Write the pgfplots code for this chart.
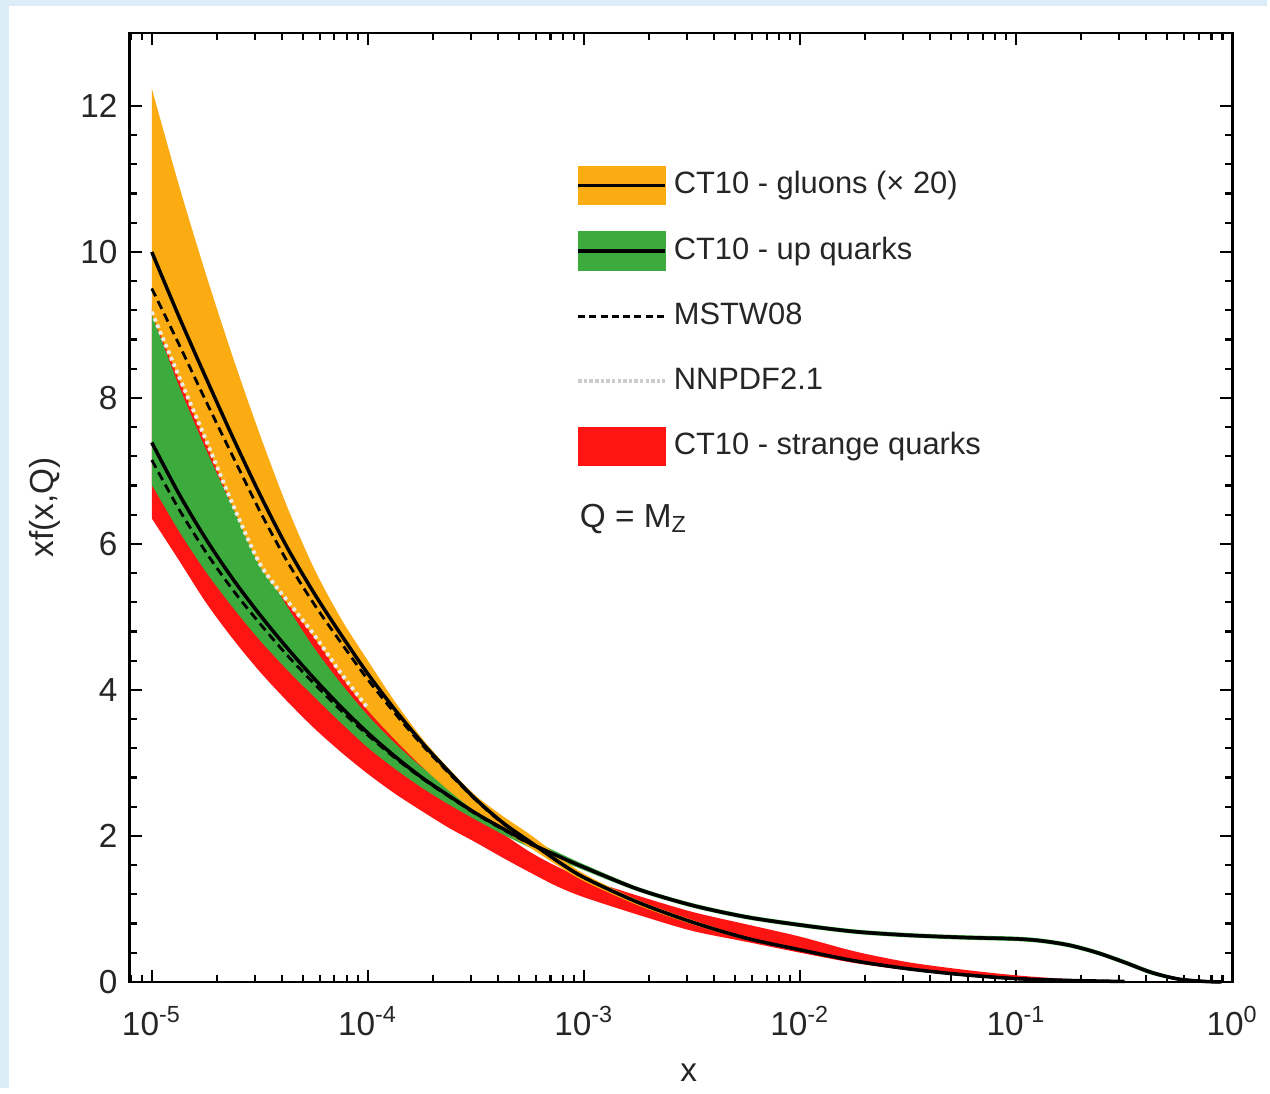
\documentclass[border=0pt]{standalone}
\usepackage{fontspec}
\setmainfont{Liberation Sans}
\usepackage{pgfplots}
\pgfplotsset{compat=1.18}
\usepackage{pgfplotstable}
\usepgfplotslibrary{fillbetween}
\definecolor{bgblue}{RGB}{220,237,248}
\definecolor{glu}{RGB}{251,172,19}
\definecolor{upgreen}{RGB}{60,170,60}
\definecolor{strq}{RGB}{255,20,20}

% x column = log10(x)
\pgfplotstableread{
lx U C L M
-5.000 12.24 10.00 9.15 9.50
-4.875 10.92 9.12 8.27 8.74
-4.750 9.70 8.28 7.40 7.96
-4.625 8.56 7.46 6.51 7.20
-4.500 7.50 6.68 5.70 6.45
-4.375 6.52 5.96 5.20 5.77
-4.250 5.67 5.33 4.73 5.18
-4.125 4.98 4.76 4.20 4.65
-4.000 4.40 4.22 3.72 4.14
-3.875 3.84 3.73 3.32 3.68
-3.750 3.34 3.28 2.95 3.25
-3.625 2.92 2.88 2.62 2.86
-3.500 2.55 2.50 2.33 2.49
-3.375 2.27 2.18 2.08 2.17
-3.250 2.02 1.92 1.84 1.92
-3.125 1.74 1.66 1.60 1.66
-3.000 1.48 1.43 1.38 1.43
-2.750 1.12 1.09 1.05 1.09
-2.500 0.85 0.82 0.79 0.82
-2.250 0.62 0.60 0.58 0.60
-2.000 0.46 0.44 0.42 0.44
-1.750 0.30 0.29 0.27 0.29
-1.500 0.19 0.18 0.17 0.18
-1.250 0.11 0.10 0.09 0.10
-1.000 0.05 0.045 0.04 0.045
-0.750 0.022 0.02 0.018 0.02
-0.500 0.007 0.006 0.005 0.006
}\gluontab

\pgfplotstableread{
lx U C L M
-5.000 9.15 7.39 6.81 7.15
-4.875 8.17 6.69 6.18 6.48
-4.750 7.30 6.07 5.62 5.89
-4.625 6.50 5.52 5.13 5.37
-4.500 5.78 5.03 4.68 4.91
-4.375 5.15 4.58 4.28 4.48
-4.250 4.58 4.16 3.91 4.09
-4.125 4.09 3.77 3.55 3.72
-4.000 3.65 3.41 3.21 3.38
-3.875 3.27 3.09 2.92 3.07
-3.750 2.94 2.80 2.66 2.79
-3.625 2.66 2.55 2.43 2.54
-3.500 2.40 2.31 2.22 2.30
-3.375 2.17 2.10 2.02 2.09
-3.250 1.96 1.90 1.84 1.89
-3.125 1.78 1.73 1.68 1.73
-3.000 1.61 1.57 1.53 1.57
-2.750 1.30 1.27 1.24 1.27
-2.500 1.08 1.05 1.02 1.05
-2.250 0.92 0.89 0.86 0.89
-2.000 0.81 0.78 0.75 0.78
-1.750 0.72 0.69 0.66 0.69
-1.500 0.67 0.64 0.61 0.64
-1.250 0.64 0.61 0.58 0.61
-1.000 0.62 0.59 0.56 0.59
-0.875 0.59 0.56 0.53 0.56
-0.750 0.53 0.50 0.47 0.50
-0.625 0.43 0.40 0.37 0.40
-0.500 0.30 0.27 0.24 0.27
-0.375 0.16 0.13 0.10 0.13
-0.250 0.06 0.04 0.02 0.04
-0.125 0.015 0.006 0.0 0.006
-0.050 0.005 0.0 0.0 0.0
}\uptab

\pgfplotstableread{
lx U L
-5.000 9.25 6.35
-4.875 8.37 5.78
-4.750 7.50 5.20
-4.625 6.61 4.70
-4.500 5.80 4.25
-4.375 5.33 3.85
-4.250 4.86 3.48
-4.125 4.31 3.15
-4.000 3.82 2.85
-3.875 3.42 2.58
-3.750 3.02 2.34
-3.625 2.66 2.11
-3.500 2.30 1.91
-3.375 2.03 1.70
-3.250 1.78 1.50
-3.125 1.58 1.31
-3.000 1.42 1.16
-2.750 1.18 0.92
-2.500 0.96 0.70
-2.250 0.79 0.55
-2.000 0.62 0.40
-1.750 0.42 0.26
-1.500 0.27 0.16
-1.250 0.17 0.09
-1.000 0.09 0.04
-0.750 0.035 0.012
-0.700 0.02 0.006
}\strangetab

\pgfplotstableread{
lx N
-5.000 9.18
-4.875 8.30
-4.750 7.43
-4.625 6.54
-4.500 5.73
-4.375 5.23
-4.250 4.76
-4.125 4.23
-4.000 3.75
}\nnpdftab

\begin{document}
\begin{tikzpicture}
\begin{axis}[
  set layers, clip=false,
  scale only axis, width=11.05cm, height=9.51cm,
  xmin=-5.102, xmax=0,
  ymin=0, ymax=13,
  xtick={-5,-4,-3,-2,-1,0},
  xticklabels={10\textsuperscript{-5},10\textsuperscript{-4},10\textsuperscript{-3},10\textsuperscript{-2},10\textsuperscript{-1},10\textsuperscript{0}},
  minor xtick={-5.097,-5.046,
    -4.699,-4.523,-4.398,-4.301,-4.222,-4.155,-4.097,-4.046,
    -3.699,-3.523,-3.398,-3.301,-3.222,-3.155,-3.097,-3.046,
    -2.699,-2.523,-2.398,-2.301,-2.222,-2.155,-2.097,-2.046,
    -1.699,-1.523,-1.398,-1.301,-1.222,-1.155,-1.097,-1.046,
    -0.699,-0.523,-0.398,-0.301,-0.222,-0.155,-0.097,-0.046},
  ytick={0,2,4,6,8,10,12},
  minor y tick num=4,
  tick align=inside, xtick pos=both, ytick pos=both,
  major tick length=0.12cm, minor tick length=0.07cm,
  tick style={black, line width=0.6pt},
  axis line style={line width=0.7pt},
  /pgf/number format/assume math mode=true,
  tick label style={font=\fontsize{9.5}{11}\selectfont, text=black!85},
  xticklabel style={yshift=-0.12cm},
  xlabel={x}, ylabel={xf(x,Q)},
  label style={font=\fontsize{9.5}{11}\selectfont, text=black!85},
  xlabel style={at={(axis description cs:0.507,-0.096)}, anchor=center},
  ylabel style={at={(axis description cs:-0.077,0.5)}, anchor=center},
  legend cell align=left,
  legend style={at={(axis description cs:0.4045,0.862)}, anchor=north west,
    draw=none, fill=none, inner sep=0pt, row sep=0.24cm,
    font=\fontsize{8.8}{10}\selectfont, text=black!85,
    /tikz/every even column/.append style={column sep=0.3cm}},
]
% page background (light blue frame and white panel)
\begin{pgfonlayer}{axis background}
\path (rel axis cs:0,0) ++(-1.30cm,-1.06cm) coordinate (pagebl);
\fill[bgblue] (pagebl) rectangle ++(12.7cm,10.9cm);
\fill[white] (pagebl) ++(0.09cm,0cm) rectangle ++(12.61cm,10.84cm);
\end{pgfonlayer}
% bands
\addplot[name path=su, draw=none, smooth, forget plot] table[x=lx, y=U]{\strangetab};
\addplot[name path=sl, draw=none, smooth, forget plot] table[x=lx, y=L]{\strangetab};
\addplot[strq, forget plot] fill between[of=su and sl];
\addplot[name path=uu, draw=none, smooth, forget plot] table[x=lx, y=U]{\uptab};
\addplot[name path=ul, draw=none, smooth, forget plot] table[x=lx, y=L]{\uptab};
\addplot[upgreen, forget plot] fill between[of=uu and ul];
\addplot[name path=gu, draw=none, smooth, forget plot] table[x=lx, y=U]{\gluontab};
\addplot[name path=gl, draw=none, smooth, forget plot] table[x=lx, y=L]{\gluontab};
\addplot[glu, forget plot] fill between[of=gu and gl];
% lines
\addplot[gray!15, line width=1.1pt, smooth, dash pattern=on 1pt off 1pt, forget plot] table[x=lx, y=N]{\nnpdftab};
\addplot[black, line width=1pt, smooth, forget plot] table[x=lx, y=C]{\gluontab};
\addplot[black, line width=0.8pt, smooth, dash pattern=on 2.5pt off 1.5pt, forget plot] table[x=lx, y=M]{\gluontab};
\addplot[black, line width=1pt, smooth, forget plot] table[x=lx, y=C]{\uptab};
\addplot[black, line width=0.8pt, smooth, dash pattern=on 2.5pt off 1.5pt, forget plot] table[x=lx, y=M]{\uptab};
% legend
\addlegendimage{legend image code/.code={\fill[glu] (0cm,-0.19cm) rectangle (0.87cm,0.19cm); \draw[black, line width=1pt] (0cm,0cm) -- (0.87cm,0cm);}}
\addlegendentry{CT10 - gluons (× 20)}
\addlegendimage{legend image code/.code={\fill[upgreen] (0cm,-0.19cm) rectangle (0.87cm,0.19cm); \draw[black, line width=1pt] (0cm,0cm) -- (0.87cm,0cm);}}
\addlegendentry{CT10 - up quarks}
\addlegendimage{legend image code/.code={\path[draw=none, fill=none] (0cm,-0.19cm) rectangle (0.87cm,0.19cm); \draw[black, line width=0.8pt, dash pattern=on 2pt off 1.2pt] (0cm,0cm) -- (0.87cm,0cm);}}
\addlegendentry{MSTW08}
\addlegendimage{legend image code/.code={\path[draw=none, fill=none] (0cm,-0.19cm) rectangle (0.87cm,0.19cm); \draw[gray!40, line width=1pt, dash pattern=on 1pt off 0.6pt] (0cm,0cm) -- (0.87cm,0cm);}}
\addlegendentry{NNPDF2.1}
\addlegendimage{legend image code/.code={\fill[strq] (0cm,-0.19cm) rectangle (0.87cm,0.19cm);}}
\addlegendentry{CT10 - strange quarks}
\node[anchor=west, font=\fontsize{9.5}{11}\selectfont, text=black!85] at (axis description cs:0.397,0.488) {Q = M\textsubscript{Z}};
\end{axis}
\end{tikzpicture}
\end{document}
